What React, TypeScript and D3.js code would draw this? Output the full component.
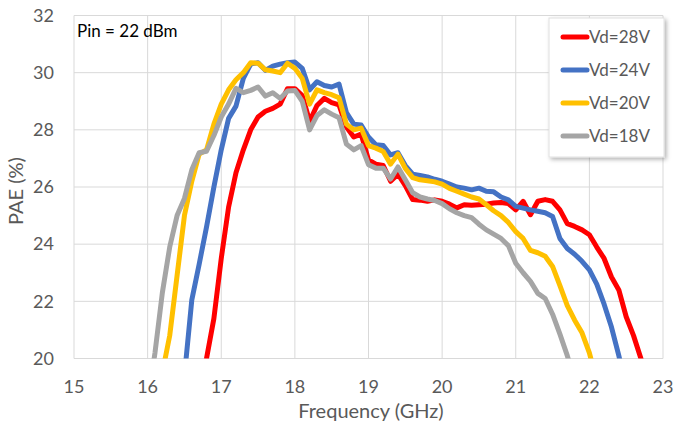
import * as d3 from 'd3';
import React from 'react';

// frequency grid (GHz), 0.1 GHz steps
const freqs28 = d3.range(167, 229).map((v) => v / 10);
const pae28 = [
	18.8, 20.0, 21.4, 23.5, 25.3, 26.5, 27.3, 28.0, 28.45, 28.65,
	28.75, 28.9, 29.44, 29.44, 29.2, 28.3, 28.85, 29.1, 28.95, 28.87,
	28.1, 27.75, 27.85, 26.95, 26.8, 26.75, 26.2, 26.45, 26.05, 25.56,
	25.54, 25.5, 25.55, 25.5, 25.4, 25.27, 25.38, 25.36, 25.38, 25.4,
	25.44, 25.46, 25.42, 25.2, 25.5, 25.03, 25.5, 25.56, 25.5, 25.2,
	24.72, 24.62, 24.5, 24.33, 23.9, 23.5, 22.85, 22.4, 21.46, 20.8,
	20.0, 19.0,
];

const freqs24 = d3.range(165, 226).map((v) => v / 10);
const pae24 = [
	19.4, 22.05, 23.3, 24.6, 26.0, 27.3, 28.4, 28.83, 29.8, 30.3,
	30.35, 30.08, 30.23, 30.3, 30.35, 30.37, 30.15, 29.4, 29.68, 29.55,
	29.5, 29.6, 28.6, 28.2, 28.17, 27.75, 27.48, 27.45, 27.12, 27.2,
	26.75, 26.45, 26.4, 26.35, 26.27, 26.2, 26.1, 26.0, 25.96, 25.9,
	25.96, 25.85, 25.83, 25.65, 25.55, 25.32, 25.26, 25.2, 25.15, 25.1,
	24.97, 24.2, 23.85, 23.65, 23.4, 23.1, 22.6, 21.9, 21.1, 20.1,
	19.0,
];

const freqs20 = d3.range(162, 222).map((v) => v / 10);
const pae20 = [
	19.5, 20.8, 22.9, 25.0, 26.2, 27.15, 27.3, 28.2, 28.9, 29.4,
	29.75, 30.0, 30.35, 30.33, 30.1, 30.06, 30.0, 30.33, 30.15, 29.8,
	28.9, 29.4, 29.3, 29.23, 29.12, 28.2, 28.0, 28.06, 27.45, 27.36,
	27.24, 26.8, 27.15, 26.65, 26.33, 26.25, 26.22, 26.18, 26.1, 25.95,
	25.85, 25.75, 25.65, 25.58, 25.38, 25.17, 25.0, 24.76, 24.44, 24.2,
	23.78, 23.7, 23.58, 23.22, 22.55, 21.85, 21.34, 20.9, 20.2, 19.2,
];

const freqs18 = d3.range(160, 219).map((v) => v / 10);
const pae18 = [
	18.5, 20.2, 22.3, 23.9, 25.0, 25.6, 26.6, 27.2, 27.25, 27.8,
	28.45, 28.9, 29.45, 29.3, 29.38, 29.5, 29.18, 29.3, 29.1, 29.36,
	29.38, 29.0, 28.0, 28.5, 28.7, 28.55, 28.42, 27.5, 27.3, 27.45,
	26.78, 26.66, 26.66, 26.28, 26.7, 26.25, 25.8, 25.65, 25.58, 25.53,
	25.42, 25.24, 25.1, 25.0, 24.93, 24.7, 24.5, 24.35, 24.2, 23.95,
	23.33, 23.0, 22.7, 22.28, 22.1, 21.55, 20.85, 20.1, 19.2,
];

const seriesNames = ['Vd=28V', 'Vd=24V', 'Vd=20V', 'Vd=18V'];
const seriesColors = ['#ff0000', '#4472c4', '#ffc000', '#a5a5a5'];
const xTicks = [15, 16, 17, 18, 19, 20, 21, 22, 23];
const yTicks = [20, 22, 24, 26, 28, 30, 32];

const W = 677;
const H = 423;
const plot = { left: 74, right: 663, top: 15.5, bottom: 358.5 };
const font = 'Lato, "Open Sans", sans-serif';
const textColor = '#595959';

export default function App() {
	const x = d3.scaleLinear().domain([15, 23]).range([plot.left, plot.right]);
	const y = d3.scaleLinear().domain([20, 32]).range([plot.bottom, plot.top]);

	const series = [
		freqs28.map((f, i) => [f, pae28[i]]),
		freqs24.map((f, i) => [f, pae24[i]]),
		freqs20.map((f, i) => [f, pae20[i]]),
		freqs18.map((f, i) => [f, pae18[i]]),
	];

	const line = d3
		.line<number[]>()
		.x((d) => x(d[0]))
		.y((d) => y(d[1]));

	const legendX = 549;
	const legendY = 18;

	return (
		<svg
			width={W}
			height={H}
			style={{ position: 'absolute', left: 0, top: 0, background: '#fff' }}
		>
			<defs>
				<clipPath id="plotClip">
					<rect
						x={plot.left}
						y={plot.top}
						width={plot.right - plot.left}
						height={plot.bottom - plot.top}
					/>
				</clipPath>
				<filter id="shadow" x="-20%" y="-20%" width="140%" height="140%">
					<feDropShadow dx="2" dy="2" stdDeviation="2" floodColor="#000" floodOpacity="0.3" />
				</filter>
			</defs>

			{/* grid */}
			{yTicks.map((t) => (
				<line
					key={'gy' + t}
					x1={plot.left}
					x2={plot.right}
					y1={y(t)}
					y2={y(t)}
					stroke="#d9d9d9"
					strokeWidth={1}
				/>
			))}
			{xTicks.map((t) => (
				<line
					key={'gx' + t}
					x1={x(t)}
					x2={x(t)}
					y1={plot.top}
					y2={plot.bottom}
					stroke="#d9d9d9"
					strokeWidth={1}
				/>
			))}

			{/* tick labels */}
			{yTicks.map((t) => (
				<text
					key={'ty' + t}
					x={54}
					y={y(t)}
					dy="0.35em"
					textAnchor="end"
					fontFamily={font}
					fontSize={18}
					fill={textColor}
				>
					{t}
				</text>
			))}
			{xTicks.map((t) => (
				<text
					key={'tx' + t}
					x={x(t)}
					y={387}
					dy="0.35em"
					textAnchor="middle"
					fontFamily={font}
					fontSize={18}
					fill={textColor}
				>
					{t}
				</text>
			))}

			{/* axis titles */}
			<text
				x={371}
				y={411}
				dy="0.35em"
				textAnchor="middle"
				fontFamily={font}
				fontSize={20}
				fill={textColor}
			>
				Frequency (GHz)
			</text>
			<text
				transform={`translate(16, 191) rotate(-90)`}
				dy="0.35em"
				textAnchor="middle"
				fontFamily={font}
				fontSize={20}
				fill={textColor}
			>
				PAE (%)
			</text>

			{/* series */}
			<g clipPath="url(#plotClip)">
				{series.map((s, i) => (
					<path
						key={seriesNames[i]}
						d={line(s) ?? ''}
						fill="none"
						stroke={seriesColors[i]}
						strokeWidth={5}
						strokeLinejoin="round"
					/>
				))}
			</g>

			<text x={77} y={31} dy="0.35em" fontFamily={font} fontSize={17} fill="#000">
				Pin = 22 dBm
			</text>

			{/* legend */}
			<rect
				x={legendX}
				y={legendY}
				width={115}
				height={139}
				fill="#fff"
				stroke="#e0e0e0"
				filter="url(#shadow)"
			/>
			{seriesNames.map((n, i) => {
				const ly = 37 + i * 33;
				return (
					<g key={'lg' + n}>
						<line
							x1={563}
							x2={587}
							y1={ly}
							y2={ly}
							stroke={seriesColors[i]}
							strokeWidth={5}
							strokeLinecap="round"
						/>
						<text
							x={589}
							y={ly}
							dy="0.35em"
							fontFamily={font}
							fontSize={17}
							fill={textColor}
						>
							{n}
						</text>
					</g>
				);
			})}
		</svg>
	);
}
